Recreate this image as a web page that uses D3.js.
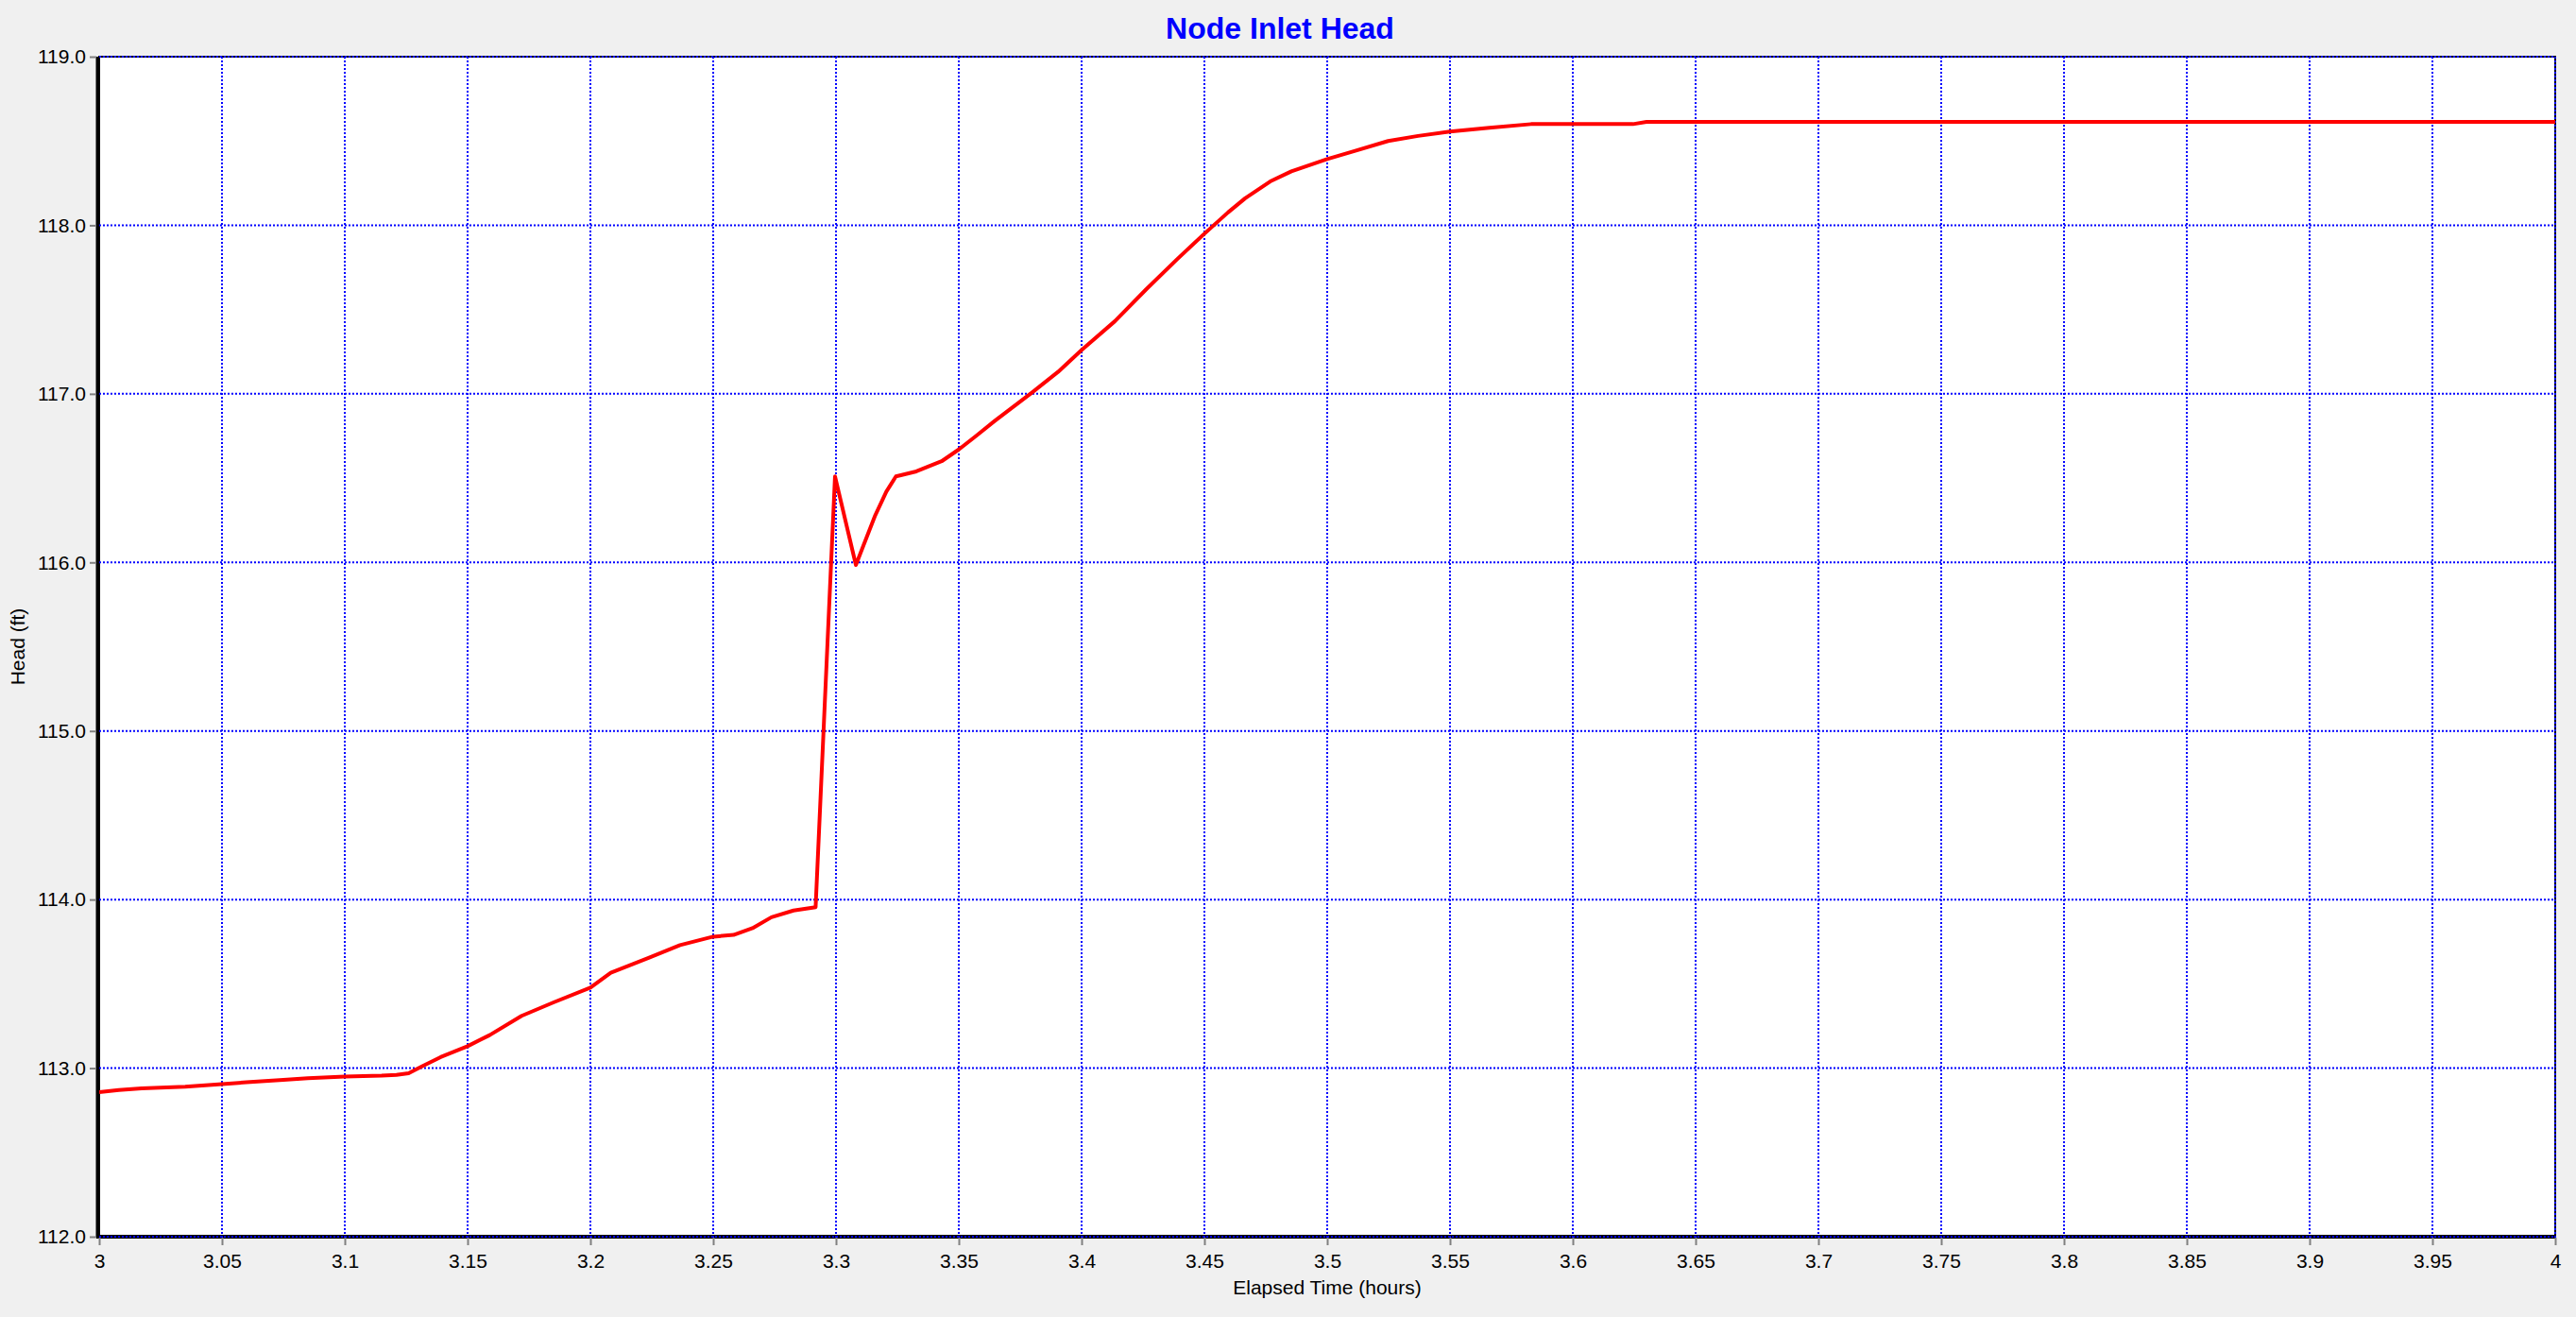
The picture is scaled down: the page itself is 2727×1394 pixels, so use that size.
<!DOCTYPE html>
<html>
<head>
<meta charset="utf-8">
<script src="https://cdn.jsdelivr.net/npm/d3@7"></script>
<style>
  body { margin: 0; background: #f0f0f0; }
  text { font-family: "Liberation Sans", Arial, sans-serif; fill: #000; }
</style>
</head>
<body>
<div id="chart"></div>
<script>
// data
var times = [3.0, 3.008, 3.0173, 3.035, 3.05, 3.06, 3.075, 3.085, 3.1, 3.115,
  3.121, 3.126, 3.1314, 3.139, 3.15, 3.159, 3.172, 3.185, 3.2, 3.2083,
  3.2237, 3.2365, 3.25, 3.2583, 3.266, 3.2737, 3.2827, 3.2917, 3.2996, 3.3081,
  3.3109, 3.316, 3.3205, 3.3244, 3.3327, 3.343, 3.35, 3.357, 3.3647, 3.38,
  3.3904, 3.4, 3.4135, 3.4263, 3.439, 3.45, 3.4596, 3.4666, 3.4768, 3.4854,
  3.5, 3.5111, 3.5248, 3.537, 3.55, 3.566, 3.583, 3.6245, 3.63, 3.7,
  3.8, 3.9, 4.0];
var heads = [112.858, 112.87, 112.88, 112.89, 112.905, 112.916, 112.93, 112.94, 112.95, 112.955,
  112.96, 112.97, 113.01, 113.065, 113.13, 113.196, 113.31, 113.39, 113.477, 113.566,
  113.654, 113.73, 113.78, 113.79, 113.83, 113.895, 113.935, 113.955, 116.51, 115.985,
  116.09, 116.28, 116.42, 116.51, 116.54, 116.60, 116.67, 116.75, 116.84, 117.01,
  117.13, 117.26, 117.43, 117.62, 117.80, 117.95, 118.076, 118.16, 118.26, 118.32,
  118.393, 118.44, 118.50, 118.53, 118.556, 118.578, 118.60, 118.60, 118.613, 118.613,
  118.613, 118.613, 118.613];
var xTicks = d3.range(0, 21).map(function(i) { return 3 + i * 0.05; });
var yTicks = [112, 113, 114, 115, 116, 117, 118, 119];

var data = times.map(function(t, i) { return {t: t, h: heads[i]}; });

// set the dimensions and margins of the graph
var margin = {top: 60, right: 22, bottom: 85, left: 105},
    width = 2727 - margin.left - margin.right,
    height = 1394 - margin.top - margin.bottom;

var svgRoot = d3.select("#chart")
  .append("svg")
  .attr("width", 2727)
  .attr("height", 1394);

var svg = svgRoot.append("g")
  .attr("transform", "translate(" + margin.left + "," + margin.top + ")");

var x = d3.scaleLinear().domain([3, 4]).range([0, width]);
var y = d3.scaleLinear().domain([112, 119]).range([height, 0]);

// plot background
svg.append("rect")
  .attr("width", width)
  .attr("height", height)
  .style("fill", "#fff");

// frame (thin top/right, thick left/bottom)
svg.append("rect")
  .attr("width", width)
  .attr("height", height)
  .style("fill", "none")
  .style("stroke", "#000")
  .style("stroke-width", 2);
svg.append("line")
  .attr("x1", -1.5).attr("x2", -1.5)
  .attr("y1", 0).attr("y2", height + 1)
  .style("stroke", "#000").style("stroke-width", 4);
svg.append("line")
  .attr("x1", -3).attr("x2", width)
  .attr("y1", height).attr("y2", height)
  .style("stroke", "#000").style("stroke-width", 4);

// gridlines
svg.selectAll(".vgrid")
  .data(xTicks.slice(1))
  .enter().append("line")
  .attr("x1", function(d) { return x(d); })
  .attr("x2", function(d) { return x(d); })
  .attr("y1", 0).attr("y2", height + 1)
  .style("stroke", "#0000ff")
  .style("stroke-width", 2)
  .style("stroke-dasharray", "2,2");
svg.selectAll(".hgrid")
  .data(yTicks)
  .enter().append("line")
  .attr("x1", 0).attr("x2", width)
  .attr("y1", function(d) { return y(d); })
  .attr("y2", function(d) { return y(d); })
  .style("stroke", "#0000ff")
  .style("stroke-width", 2)
  .style("stroke-dasharray", "2,2");

// axes
var xAxis = svg.append("g")
  .attr("transform", "translate(0," + (height + 1) + ")")
  .call(d3.axisBottom(x).tickValues(xTicks).tickSize(8).tickPadding(9)
    .tickFormat(function(d) { return String(+d.toFixed(2)); }));
xAxis.select(".domain").remove();
xAxis.selectAll("line").style("stroke", "#808080").style("stroke-width", 2);
xAxis.selectAll("text").style("font-size", "21px");

var yAxis = svg.append("g")
  .attr("transform", "translate(-3,0)")
  .call(d3.axisLeft(y).tickValues(yTicks).tickSize(7).tickPadding(4)
    .tickFormat(d3.format(".1f")));
yAxis.select(".domain").remove();
yAxis.selectAll("line").style("stroke", "#808080").style("stroke-width", 2);
yAxis.selectAll("text").style("font-size", "21px");

// the line
svg.append("clipPath").attr("id", "clip")
  .append("rect").attr("width", width).attr("height", height);

svg.append("path")
  .datum(data)
  .attr("clip-path", "url(#clip)")
  .attr("d", d3.line()
    .x(function(d) { return x(d.t); })
    .y(function(d) { return y(d.h); }))
  .style("fill", "none")
  .style("stroke", "#ff0000")
  .style("stroke-width", 4)
  .style("stroke-linejoin", "round");

// titles
svgRoot.append("text")
  .attr("x", 1355)
  .attr("y", 41)
  .attr("text-anchor", "middle")
  .style("font-size", "32px")
  .style("font-weight", "bold")
  .style("fill", "#0000ff")
  .text("Node Inlet Head");

svgRoot.append("text")
  .attr("x", margin.left + width / 2)
  .attr("y", 1370)
  .attr("text-anchor", "middle")
  .style("font-size", "21px")
  .text("Elapsed Time (hours)");

svgRoot.append("text")
  .attr("transform", "translate(26," + (margin.top + height / 2) + ") rotate(-90)")
  .attr("text-anchor", "middle")
  .style("font-size", "21px")
  .text("Head (ft)");
</script>
</body>
</html>
